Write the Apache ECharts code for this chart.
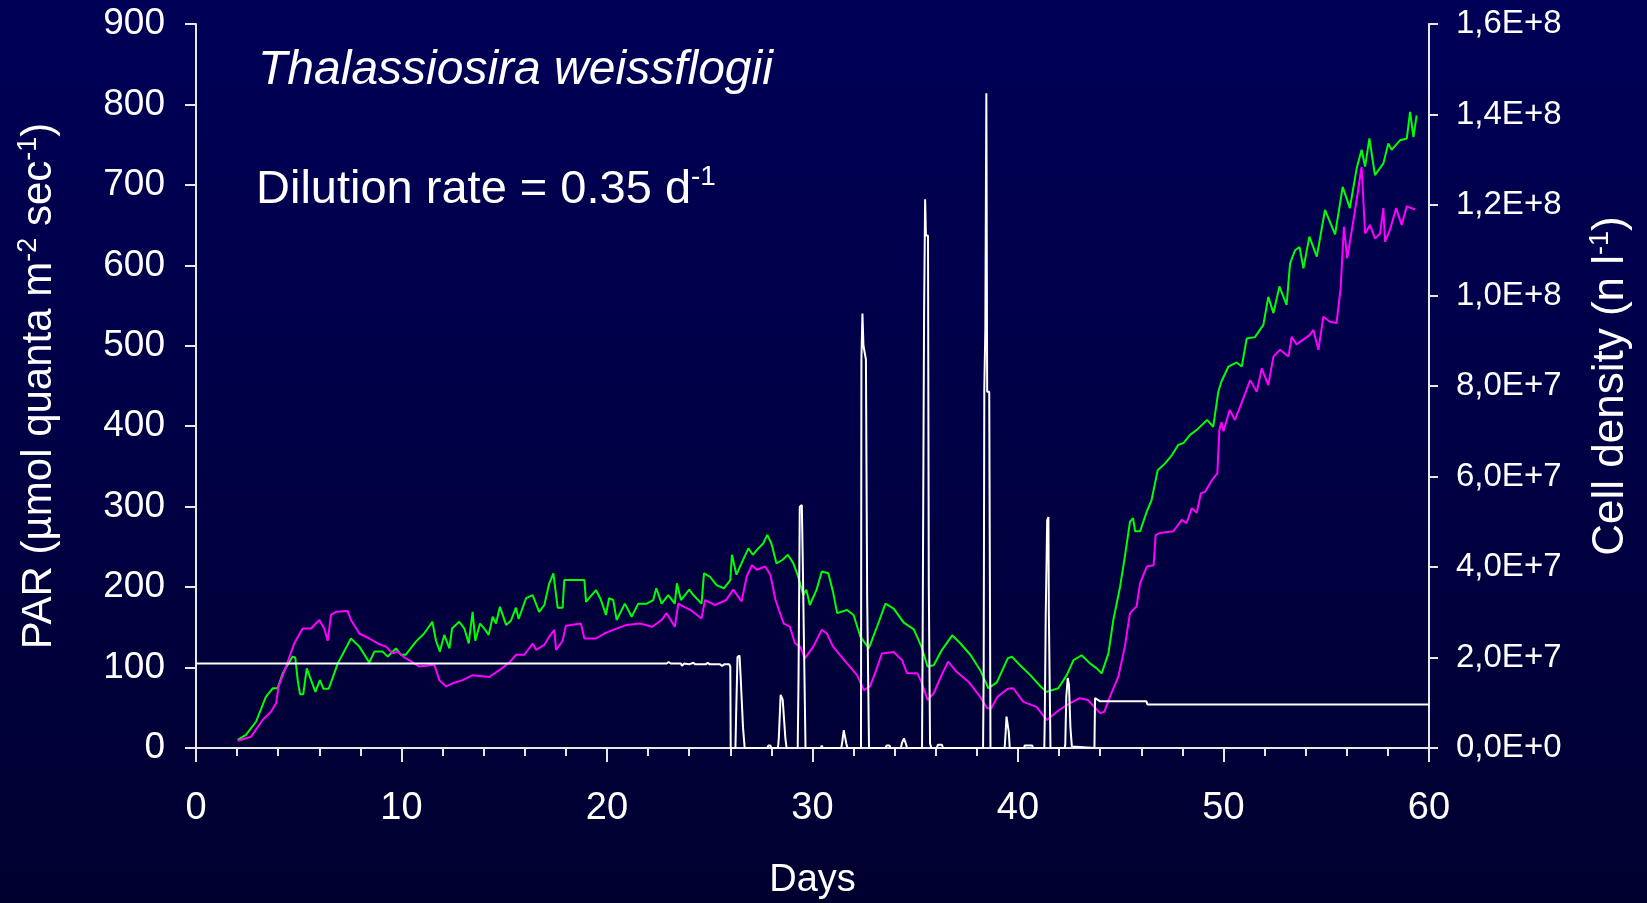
<!DOCTYPE html>
<html>
<head>
<meta charset="utf-8">
<script src="https://cdn.jsdelivr.net/npm/echarts@6/dist/echarts.min.js"></script>
<style>
html,body{margin:0;padding:0;width:1647px;height:903px;overflow:hidden;
background:linear-gradient(to bottom,#000057 0%,#000045 50%,#00002f 100%);}
#chart{width:1647px;height:903px;}
</style>
</head>
<body>
<div id="chart"></div>
<script>
// ---- tick labels ----
const xTicks = [0, 10, 20, 30, 40, 50, 60];
const leftTicks = [0, 100, 200, 300, 400, 500, 600, 700, 800, 900];
const rightTickLabels = ['0,0E+0', '2,0E+7', '4,0E+7', '6,0E+7', '8,0E+7', '1,0E+8', '1,2E+8', '1,4E+8', '1,6E+8'];

// ---- PAR (µmol quanta m-2 s-1), [day, value] ----
const parData = [
  [0,105],[22.9,105],[23.0,107],[23.1,105],[23.6,105],[23.65,102],[23.75,105],[24.0,104],[24.2,106],[24.3,104],
  [24.8,104],[24.9,106],[25.0,104],[25.5,104],[25.6,102],[25.7,104],[25.95,104],[26.0,101],[26.02,0],
  [26.25,0],[26.28,37],[26.35,113],[26.45,115],[26.5,90],[26.62,25],[26.7,0],
  [27.8,0],[27.85,3],[27.95,3],[28.0,0],
  [28.32,0],[28.36,12],[28.45,66],[28.55,60],[28.68,12],[28.74,0],
  [29.28,0],[29.32,85],[29.38,300],[29.48,302],[29.52,243],[29.66,0],
  [30.4,0],[30.45,3],[30.5,0],
  [31.4,0],[31.45,8],[31.52,22],[31.58,22],[31.65,5],[31.7,0],
  [32.36,0],[32.38,483],[32.43,540],[32.48,500],[32.55,500],[32.6,483],[32.66,188],[32.72,188],[32.75,0],
  [33.55,0],[33.6,3],[33.75,3],[33.8,0],
  [34.3,0],[34.35,6],[34.45,12],[34.5,12],[34.55,5],[34.6,0],
  [35.33,0],[35.36,138],[35.43,542],[35.48,682],[35.52,637],[35.62,637],[35.66,200],[35.72,6],[35.78,0],
  [36.05,0],[36.1,4],[36.3,4],[36.35,0],
  [38.3,0],[38.33,91],[38.36,447],[38.41,520],[38.46,814],[38.5,443],[38.6,443],[38.66,0],
  [39.35,0],[39.4,20],[39.44,39],[39.5,38],[39.55,20],[39.6,0],
  [40.3,0],[40.32,3],[40.7,3],[40.72,0],
  [41.28,0],[41.3,31],[41.35,167],[41.42,283],[41.48,287],[41.5,170],[41.58,0],
  [42.27,0],[42.3,4],[42.35,64],[42.42,87],[42.48,78],[42.55,26],[42.62,2],[42.66,0],
  [43.72,0],[43.75,62],[43.82,63],[44.0,58],[46.25,58],[46.3,54],[60,54]
];

// ---- Cell density, millions of cells per litre, [day, value] ----
const greenData = [
  [2.03,1.8],[2.43,2.9],[2.92,5.8],[3.4,11.3],[3.73,13.2],[3.97,13.2],[4.22,16.5],[4.7,20.2],[4.83,20],[4.95,15],
  [5.06,11.9],[5.22,11.9],[5.39,17.6],[5.6,15],[5.81,12.4],[6.03,15],[6.2,13.1],[6.46,13.1],[6.9,18.7],[7.54,24.2],
  [7.95,22.4],[8.43,18.9],[8.68,21.3],[9.08,21.3],[9.33,20.2],[9.73,22],[9.98,20.6],[10.2,20.6],[10.7,23.5],[11.1,25.3],
  [11.5,27.9],[11.68,23.7],[11.87,21.3],[12.08,25],[12.33,22],[12.46,26.4],[12.81,27.9],[13.06,26.4],[13.27,23.1],[13.46,30.1],
  [13.59,23.7],[13.82,27.5],[14.03,26.4],[14.24,25],[14.44,29],[14.6,27.5],[14.79,31.2],[15.09,27.2],[15.33,28.2],[15.57,31],
  [15.7,28.5],[16.06,33.1],[16.38,33.8],[16.7,30.1],[16.95,31.6],[17.19,36.4],[17.39,38.6],[17.6,31],[17.84,31],[17.92,37.1],
  [18.9,37.1],[18.98,32.3],[19.46,34.9],[19.7,32.8],[19.95,29.4],[20.1,33.1],[20.3,32.7],[20.47,28.3],[20.87,31.9],[21.2,29],
  [21.52,31.9],[21.93,31.9],[22.25,32.7],[22.4,35.3],[22.66,31.9],[22.98,33.8],[23.3,31.9],[23.4,36.4],[23.6,32.7],[24.0,35],
  [24.2,33.8],[24.6,31.9],[24.72,38.6],[25.0,37.9],[25.33,36],[25.69,35.3],[26.0,37.1],[26.08,42.7],[26.3,38.3],[26.47,40.1],
  [26.88,44.1],[27.1,42.7],[27.36,44.1],[27.6,45.2],[27.8,47.1],[28.0,45.2],[28.25,40.8],[28.55,41.6],[28.8,42.7],[29.07,40.8],
  [29.3,37.9],[29.55,33.8],[29.7,35],[29.87,31.6],[30.2,35],[30.45,39],[30.77,38.6],[31.0,34.5],[31.2,29.8],[31.68,30.5],
  [32.0,29.4],[32.33,24.6],[32.74,22],[33.14,26.8],[33.55,31.9],[33.95,30.8],[34.44,27.7],[34.93,26.2],[35.3,22.4],[35.6,18],
  [35.9,18.3],[36.3,21.7],[36.8,24.9],[37.2,23.1],[37.7,20.5],[38.16,17.2],[38.56,13.2],[38.97,14.5],[39.5,19.8],[39.7,20.2],
  [40.1,18.3],[40.6,16.1],[41.1,13.6],[41.4,12.4],[41.96,13.2],[42.37,16.1],[42.7,19.4],[43.1,20.5],[43.5,18.7],[43.83,17.6],
  [44.07,16.5],[44.4,20.9],[44.64,28.3],[44.97,35.7],[45.2,42.3],[45.45,50],[45.6,50.8],[45.7,47.9],[45.94,47.9],[46.27,52.3],
  [46.5,54.8],[46.8,61.4],[47.16,62.9],[47.5,64.8],[47.8,67],[48.05,67.4],[48.37,69.2],[48.7,70.3],[49.2,72.5],[49.5,71],
  [49.75,78.8],[49.9,81],[50.24,84.3],[50.64,85.2],[50.89,84.3],[51.13,90.5],[51.53,90.8],[51.94,93.5],[52.18,99.7],[52.43,96.1],
  [52.72,102],[53.07,97.9],[53.24,107.1],[53.48,110],[53.7,110.7],[53.89,106],[54.18,113],[54.54,108.6],[54.94,118.9],[55.43,113.5],
  [55.8,124],[56.15,119.3],[56.48,128.1],[56.72,132.2],[56.89,128.5],[57.1,134.7],[57.37,126.6],[57.78,129.2],[58.02,133.6],[58.18,132.2],
  [58.59,134.3],[58.92,134.7],[59.08,140.6],[59.24,135],[59.4,139.8]
];

const magentaData = [
  [2.03,1.6],[2.68,2.5],[3.24,6.2],[3.65,8.0],[3.9,9.9],[4.02,13.6],[4.38,18],[4.78,23.1],[5.19,26.4],[5.6,26.4],
  [6.0,28.3],[6.24,26.4],[6.41,23.7],[6.57,29.4],[6.81,30.1],[7.38,30.3],[7.54,28.3],[7.95,25.3],[8.43,24.2],[8.84,23.1],
  [9.25,22.4],[9.57,20.9],[9.81,21.3],[10.14,20],[10.54,18.9],[10.87,18],[11.6,18.4],[11.84,15],[12.17,13.6],[12.49,14.3],
  [12.98,15],[13.46,16.1],[14.27,15.7],[14.76,17.2],[15.25,18.9],[15.57,20.6],[15.98,20.6],[16.38,23.1],[16.55,21.7],[16.95,22.8],
  [17.19,24.6],[17.44,26.1],[17.52,21.7],[17.84,23.7],[18.0,27],[18.73,27.5],[18.9,24.2],[19.46,24.2],[19.87,25.3],[20.3,26.1],
  [20.96,27.2],[21.6,27.5],[22.2,26.8],[22.66,28.3],[22.9,29.8],[23.3,26.8],[23.47,31.9],[23.8,31.1],[24.1,30.4],[24.6,28.6],
  [24.77,32.7],[25.25,31.6],[25.8,32.7],[26.14,35],[26.55,32.4],[26.8,37.9],[27.05,40.4],[27.29,39.4],[27.7,40.1],[27.95,38.3],
  [28.2,32.7],[28.6,27.5],[28.9,26.8],[29.15,23.1],[29.4,22.4],[29.63,19.8],[30.04,22.4],[30.45,26.1],[30.7,25.3],[31.0,22.4],
  [31.68,18.7],[32.17,16.1],[32.5,12.8],[32.8,13.6],[33.1,17.2],[33.38,20.9],[33.95,21.2],[34.36,19.4],[34.6,16.5],[35.1,16.5],
  [35.3,14.6],[35.6,10.6],[35.9,12.1],[36.25,15.8],[36.6,19.1],[37.0,16.9],[37.6,14.6],[38.16,11.3],[38.5,8.8],[38.7,8.8],
  [39.0,11.3],[39.5,13.1],[39.77,13.2],[40.26,10.2],[40.9,9.1],[41.4,6.2],[42.0,8.4],[42.5,9.8],[43.0,11.0],[43.4,10.6],
  [44.0,7.7],[44.2,8.0],[44.47,11.3],[44.88,15.7],[45.2,22.4],[45.45,29.8],[45.77,31.3],[45.94,36.4],[46.27,40.1],[46.6,40.4],
  [46.7,47.1],[46.9,47.5],[47.56,47.9],[47.97,50.4],[48.2,49.7],[48.46,53],[48.7,52],[48.9,56.3],[49.1,56.6],[49.45,59.3],
  [49.7,60.7],[49.8,70.3],[49.9,72],[50.0,70],[50.3,74.7],[50.56,72.5],[50.97,77.3],[51.3,81.3],[51.62,78.7],[51.86,83.9],
  [52.18,80.2],[52.43,86.5],[52.75,88],[53.16,86.5],[53.32,90.9],[53.56,89.2],[54.2,91.3],[54.37,92.4],[54.62,88],[54.86,95.3],
  [55.18,94.2],[55.5,93.9],[55.7,101.6],[55.86,115.2],[56.02,108.2],[56.23,114],[56.48,121.1],[56.72,128.4],[56.89,113.7],[57.13,115.6],
  [57.37,112.6],[57.62,113.7],[57.78,119.3],[57.86,111.9],[58.1,114.5],[58.4,119.3],[58.67,115.6],[58.92,119.7],[59.32,119]
];

const FONT = '"Liberation Sans", Arial, sans-serif';
const AX = '#e8e8e8';

const chart = echarts.init(document.getElementById('chart'), null, {renderer: 'canvas'});
chart.setOption({
  backgroundColor: 'transparent',
  animation: false,
  textStyle: {fontFamily: FONT, color: '#ffffff'},
  title: [
    {text: 'Thalassiosira weissflogii', left: 253, top: 42,
     textStyle: {fontFamily: FONT, fontStyle: 'italic', fontWeight: 'normal', fontSize: 48, color: '#ffffff'}},
    {text: '{a|Dilution rate = 0.35 d}{s|-1}', left: 251, top: 158,
     textStyle: {fontWeight: 'normal', rich: {
       a: {fontFamily: FONT, fontSize: 47, fontWeight: 'normal', color: '#ffffff', lineHeight: 54},
       s: {fontFamily: FONT, fontSize: 28, fontWeight: 'normal', color: '#ffffff', lineHeight: 54, verticalAlign: 'top'}
     }}}
  ],
  grid: {left: 196, right: 218, top: 24, bottom: 155, containLabel: false, outerBoundsMode: 'none'},
  xAxis: {
    type: 'value', min: xTicks[0], max: xTicks[xTicks.length - 1], interval: 10,
    name: 'Days', nameLocation: 'middle', nameGap: 114,
    nameTextStyle: {fontFamily: FONT, fontSize: 38, color: '#ffffff'},
    axisLine: {show: true, onZero: false, lineStyle: {color: AX, width: 2}},
    axisTick: {show: true, inside: false, length: 14, lineStyle: {color: AX, width: 2}},
    minorTick: {show: true, splitNumber: 5, length: 8, lineStyle: {color: AX, width: 2}},
    axisLabel: {color: '#ffffff', fontFamily: FONT, fontSize: 38, margin: 42},
    splitLine: {show: false}, minorSplitLine: {show: false}
  },
  yAxis: [
    {
      type: 'value', position: 'left', min: leftTicks[0], max: leftTicks[leftTicks.length - 1], interval: 100,
      name: '{a|PAR (µmol quanta m}{s|-2}{a| sec}{s|-1}{a|)}',
      nameLocation: 'middle', nameRotate: 90, nameGap: 133,
      nameTextStyle: {rich: {
        a: {fontFamily: FONT, fontSize: 42, color: '#ffffff', lineHeight: 48},
        s: {fontFamily: FONT, fontSize: 27, color: '#ffffff', lineHeight: 48, verticalAlign: 'top'}
      }},
      axisLine: {show: true, lineStyle: {color: AX, width: 2}},
      axisTick: {show: true, inside: false, length: 11, lineStyle: {color: AX, width: 2}},
      axisLabel: {color: '#ffffff', fontFamily: FONT, fontSize: 37, margin: 31},
      splitLine: {show: false}
    },
    {
      type: 'value', position: 'right', min: 0, max: 160, interval: 20,
      name: '{a|Cell density (n l}{s|-1}{a|)}',
      nameLocation: 'middle', nameRotate: 90, nameGap: 158,
      nameTextStyle: {rich: {
        a: {fontFamily: FONT, fontSize: 44, color: '#ffffff', lineHeight: 48},
        s: {fontFamily: FONT, fontSize: 27, color: '#ffffff', lineHeight: 48, verticalAlign: 'top'}
      }},
      axisLine: {show: true, lineStyle: {color: AX, width: 2}},
      axisTick: {show: true, inside: false, length: 9, lineStyle: {color: AX, width: 2}},
      axisLabel: {color: '#ffffff', fontFamily: FONT, fontSize: 33, margin: 27,
        formatter: function (v) { return rightTickLabels[Math.round(v / 20)]; }},
      splitLine: {show: false}
    }
  ],
  series: [
    {name: 'green', type: 'line', yAxisIndex: 1, data: greenData, showSymbol: false, symbol: 'none',
     lineStyle: {color: '#00ff00', width: 2}, z: 2},
    {name: 'magenta', type: 'line', yAxisIndex: 1, data: magentaData, showSymbol: false, symbol: 'none',
     lineStyle: {color: '#ff00ff', width: 2}, z: 3},
    {name: 'PAR', type: 'line', yAxisIndex: 0, data: parData, showSymbol: false, symbol: 'none',
     lineStyle: {color: '#ffffff', width: 2}, z: 4}
  ]
});
</script>
</body>
</html>
